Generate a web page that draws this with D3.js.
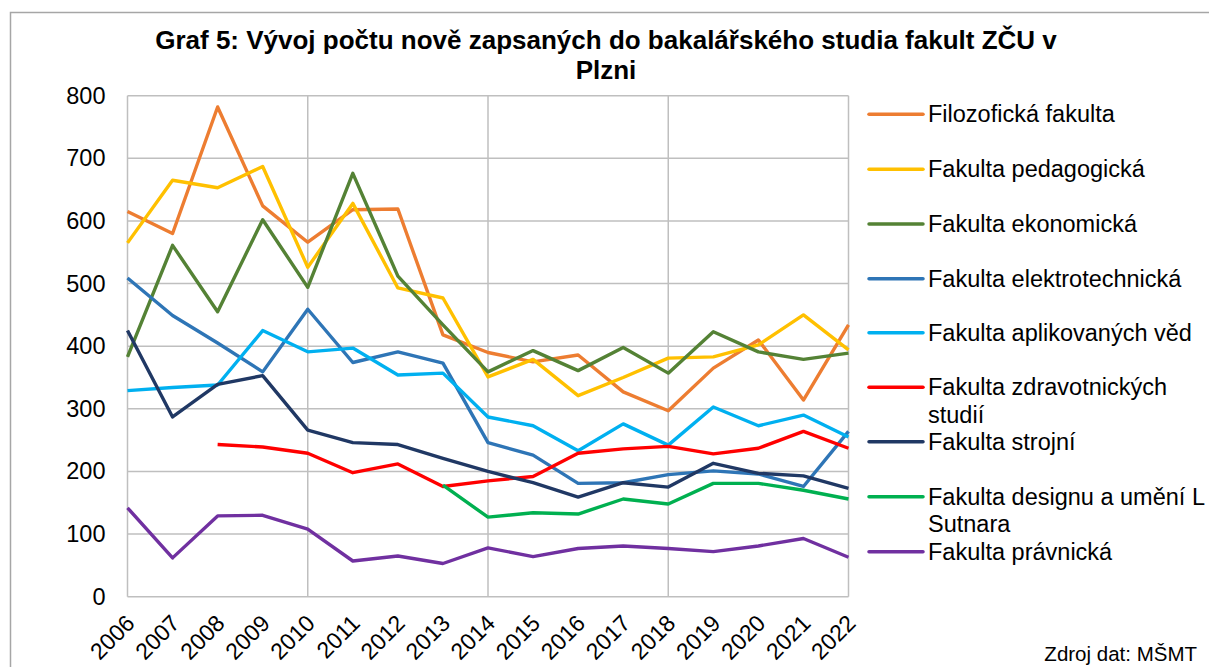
<!DOCTYPE html>
<html>
<head>
<meta charset="utf-8">
<script src="https://cdn.jsdelivr.net/npm/d3@7"></script>
<style>
  body { margin: 0; background: #fff; }
  svg { display: block; font-family: "Liberation Sans", Arial, sans-serif; }
</style>
</head>
<body>
<div id="chart"></div>
<script>
var years = [2006, 2007, 2008, 2009, 2010, 2011, 2012, 2013, 2014, 2015, 2016, 2017, 2018, 2019, 2020, 2021, 2022];
var yTicks = [0, 100, 200, 300, 400, 500, 600, 700, 800];
var xGridYears = [2006, 2010, 2014, 2018, 2022];

var filozoficka = [615, 580, 782, 624, 566, 618, 619, 418, 390, 375, 386, 327, 297, 365, 410, 314, 434];
var pedagogicka = [565, 665, 653, 687, 526, 628, 493, 477, 351, 379, 321, 350, 381, 383, 402, 450, 394];
var ekonomicka = [383, 561, 455, 602, 494, 676, 512, 434, 359, 393, 361, 398, 357, 423, 391, 379, 389];
var elektrotechnicka = [509, 449, 405, 359, 459, 374, 391, 373, 246, 226, 181, 182, 195, 201, 196, 176, 264];
var aplikovanych = [329, 334, 338, 425, 391, 397, 354, 357, 287, 273, 233, 276, 242, 303, 273, 290, 255];
var zdravotnickych = [null, null, 243, 239, 229, 198, 212, 176, 185, 192, 229, 236, 240, 228, 237, 264, 237];
var strojni = [425, 287, 339, 353, 266, 246, 243, 221, 200, 182, 159, 182, 175, 213, 197, 193, 173];
var designu = [null, null, null, null, null, null, null, 178, 127, 134, 132, 156, 148, 181, 181, 170, 156];
var pravnicka = [142, 62, 129, 130, 108, 57, 65, 53, 78, 64, 77, 81, 77, 72, 81, 93, 63];

var seriesNames = [
  ['Filozofická fakulta'],
  ['Fakulta pedagogická'],
  ['Fakulta ekonomická'],
  ['Fakulta elektrotechnická'],
  ['Fakulta aplikovaných věd'],
  ['Fakulta zdravotnických', 'studií'],
  ['Fakulta strojní'],
  ['Fakulta designu a umění L', 'Sutnara'],
  ['Fakulta právnická']
];
var seriesValues = [filozoficka, pedagogicka, ekonomicka, elektrotechnicka, aplikovanych, zdravotnickych, strojni, designu, pravnicka];
var colors = ['#ED7D31', '#FFC000', '#548235', '#2E75B6', '#00B0F0', '#FF0000', '#203864', '#00B050', '#7030A0'];

var width = 1209, height = 667;
var plotLeft = 127.5, plotRight = 848.5, plotTop = 95.7, plotBottom = 596.7;

var svg = d3.select('#chart').append('svg')
  .attr('width', width)
  .attr('height', height);

// outer frame
svg.append('rect')
  .attr('x', 10.5).attr('y', 12.5)
  .attr('width', 1220).attr('height', 700)
  .attr('fill', 'none')
  .attr('stroke', '#A6A6A6')
  .attr('stroke-width', 1.5);

svg.append('text')
  .attr('x', 606).attr('y', 49)
  .attr('text-anchor', 'middle')
  .style('font-weight', 'bold')
  .style('font-size', '26px')
  .text('Graf 5: Vývoj počtu nově zapsaných do bakalářského studia fakult ZČU v');
svg.append('text')
  .attr('x', 606).attr('y', 79)
  .attr('text-anchor', 'middle')
  .style('font-weight', 'bold')
  .style('font-size', '26px')
  .text('Plzni');

var x = d3.scaleLinear().domain([2006, 2022]).range([plotLeft, plotRight]);
var y = d3.scaleLinear().domain([0, 800]).range([plotBottom, plotTop]);

// grid
svg.append('g')
  .selectAll('line')
  .data(yTicks)
 .enter().append('line')
  .attr('x1', plotLeft).attr('x2', plotRight)
  .attr('y1', function(d) { return y(d); })
  .attr('y2', function(d) { return y(d); })
  .attr('stroke', '#BFBFBF')
  .attr('stroke-width', 1.5);

svg.append('g')
  .selectAll('line')
  .data(xGridYears)
 .enter().append('line')
  .attr('x1', function(d) { return x(d); })
  .attr('x2', function(d) { return x(d); })
  .attr('y1', plotTop).attr('y2', plotBottom)
  .attr('stroke', '#BFBFBF')
  .attr('stroke-width', 1.5);

// y axis labels
var yAxis = svg.append('g')
  .attr('transform', 'translate(' + plotLeft + ',0)')
  .call(d3.axisLeft(y).tickValues(yTicks).tickSize(0).tickPadding(22));
yAxis.select('.domain').remove();
yAxis.selectAll('text')
  .style('font-size', '23.5px')
  .style('font-family', '"Liberation Sans", Arial, sans-serif')
  .attr('fill', '#000');

// x axis labels
var xAxis = svg.append('g')
  .attr('transform', 'translate(0,' + plotBottom + ')')
  .call(d3.axisBottom(x).tickValues(years).tickFormat(d3.format('d')).tickSize(0));
xAxis.select('.domain').remove();
xAxis.selectAll('text')
  .style('font-size', '23px')
  .style('font-family', '"Liberation Sans", Arial, sans-serif')
  .attr('fill', '#000')
  .attr('text-anchor', 'end')
  .attr('dy', 0)
  .attr('y', 0)
  .attr('transform', 'translate(8,28) rotate(-45)');

// lines
var line = d3.line()
  .defined(function(d) { return d != null; })
  .x(function(d, i) { return x(years[i]); })
  .y(function(d) { return y(d); });

svg.append('g')
  .selectAll('path')
  .data(seriesValues)
 .enter().append('path')
  .attr('d', line)
  .attr('fill', 'none')
  .attr('stroke', function(d, i) { return colors[i]; })
  .attr('stroke-width', 3.4)
  .attr('stroke-linejoin', 'round');

// legend
var legendY = [114.3, 169.3, 224, 278.7, 332.7, 387.3, 441.7, 496.7, 551.7];
var legend = svg.append('g')
  .selectAll('g')
  .data(seriesNames)
 .enter().append('g')
  .attr('transform', function(d, i) { return 'translate(869,' + legendY[i] + ')'; });

legend.append('line')
  .attr('x1', 0).attr('x2', 54)
  .attr('stroke', function(d, i) { return colors[i]; })
  .attr('stroke-width', 3.5)
  .attr('stroke-linecap', 'round');

legend.append('text')
  .attr('x', 59)
  .attr('y', 8)
  .style('font-size', '23.5px')
  .selectAll('tspan')
  .data(function(d) { return d; })
 .enter().append('tspan')
  .attr('x', 59)
  .attr('dy', function(d, i) { return i === 0 ? 0 : 27.3; })
  .text(function(d) { return d; });

svg.append('text')
  .attr('x', 1197).attr('y', 661)
  .attr('text-anchor', 'end')
  .style('font-size', '20.5px')
  .text('Zdroj dat: MŠMT');
</script>
</body>
</html>
